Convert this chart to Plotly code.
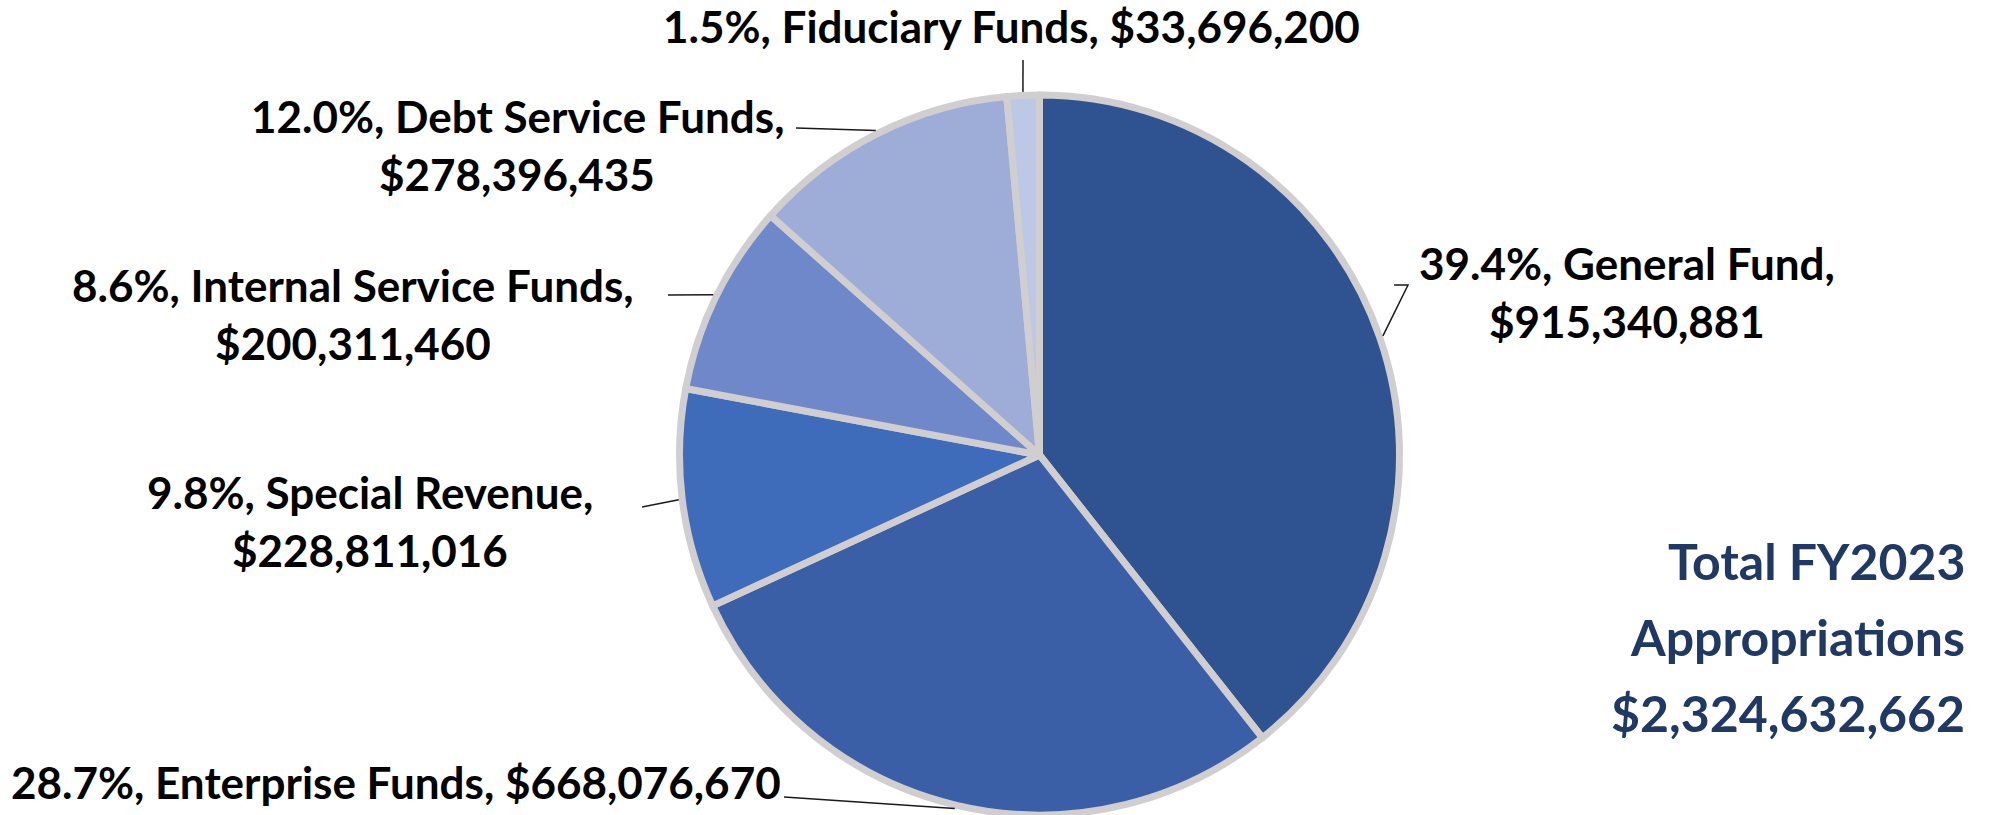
import math
import plotly.graph_objects as go

# Fund appropriations, clockwise from 12 o'clock
funds = ["General Fund", "Enterprise Funds", "Special Revenue",
         "Internal Service Funds", "Debt Service Funds", "Fiduciary Funds"]
amounts = [915340881, 668076670, 228811016, 200311460, 278396435, 33696200]
pct_text = ["39.4%", "28.7%", "9.8%", "8.6%", "12.0%", "1.5%"]
colors = ["#2F5291", "#3A5FA7", "#3F6CBA", "#6E88C9", "#9EADD7", "#BCC8E6"]
fiscal_year = "FY2023"

W, H = 2014, 815
BORDER = 7
R = 360
CX, CY = 1039.5, H - R
dom_x = [(CX - R) / W, (CX + R) / W]
dom_y = [0, 2 * R / H]

FONT = "Lato"
LABEL_SIZE = 44
LINE_GAP = 58

fig = go.Figure(go.Pie(
    labels=funds,
    values=amounts,
    sort=False,
    direction="clockwise",
    rotation=0,
    textinfo="none",
    hoverinfo="label+value+percent",
    marker=dict(colors=colors, line=dict(color="#D0CECE", width=BORDER)),
    domain=dict(x=dom_x, y=dom_y),
    showlegend=False,
))


def px(x, y):
    return x / W, 1 - y / H


total = sum(amounts)
cum = 0
mids = []
for a in amounts:
    mids.append((cum + a / 2) / total * 2 * math.pi)
    cum += a


def edge_point(i):
    ang = mids[i]
    rr = R + BORDER / 2
    return CX + rr * math.sin(ang), CY - rr * math.cos(ang)


# label placement: (center x, first-line y, split into two lines, leader start points)
placement = {
    "General Fund": dict(x=1627, y=263, two=True, lead=[(1394, 285), (1408, 285)]),
    "Enterprise Funds": dict(x=396, y=782, two=False, lead=[(784, 797)]),
    "Special Revenue": dict(x=370, y=492, two=True, lead=[(642, 507)]),
    "Internal Service Funds": dict(x=353, y=285, two=True, lead=[(668, 295)]),
    "Debt Service Funds": dict(x=517, y=116, two=True, lead=[(796, 128)]),
    "Fiduciary Funds": dict(x=1011, y=26, two=False, lead=[(1023, 60)]),
}

annotations = []
shapes = []
for i, name in enumerate(funds):
    p = placement[name]
    money = f"${amounts[i]:,}"
    if p["two"]:
        lines = [f"{pct_text[i]}, {name},", money]
    else:
        lines = [f"{pct_text[i]}, {name}, {money}"]
    for k, t in enumerate(lines):
        x, y = px(p["x"], p["y"] + k * LINE_GAP)
        annotations.append(dict(
            x=x, y=y, xref="paper", yref="paper", text=f"<b>{t}</b>",
            showarrow=False, xanchor="center", yanchor="middle",
            font=dict(family=FONT, size=LABEL_SIZE, color="#000000"),
        ))
    pts = list(p["lead"]) + [edge_point(i)]
    path = "M " + " L ".join(f"{px(a, b)[0]:.5f},{px(a, b)[1]:.5f}" for a, b in pts[::-1])
    shapes.append(dict(type="path", path=path, xref="paper", yref="paper",
                       line=dict(color="#1A1A1A", width=1.5)))

total_lines = [f"Total {fiscal_year}", "Appropriations", f"${total:,}"]
for k, t in enumerate(total_lines):
    x, y = px(1967, 561 + k * 76)
    annotations.append(dict(
        x=x, y=y, xref="paper", yref="paper", text=f"<b>{t}</b>",
        showarrow=False, xanchor="right", yanchor="middle",
        font=dict(family=FONT, size=50, color="#1F3864"),
    ))

fig.update_layout(
    width=W, height=H,
    margin=dict(l=0, r=0, t=0, b=0),
    paper_bgcolor="#FFFFFF",
    plot_bgcolor="#FFFFFF",
    annotations=annotations,
    shapes=shapes,
)

fig.write_html("out.html")
